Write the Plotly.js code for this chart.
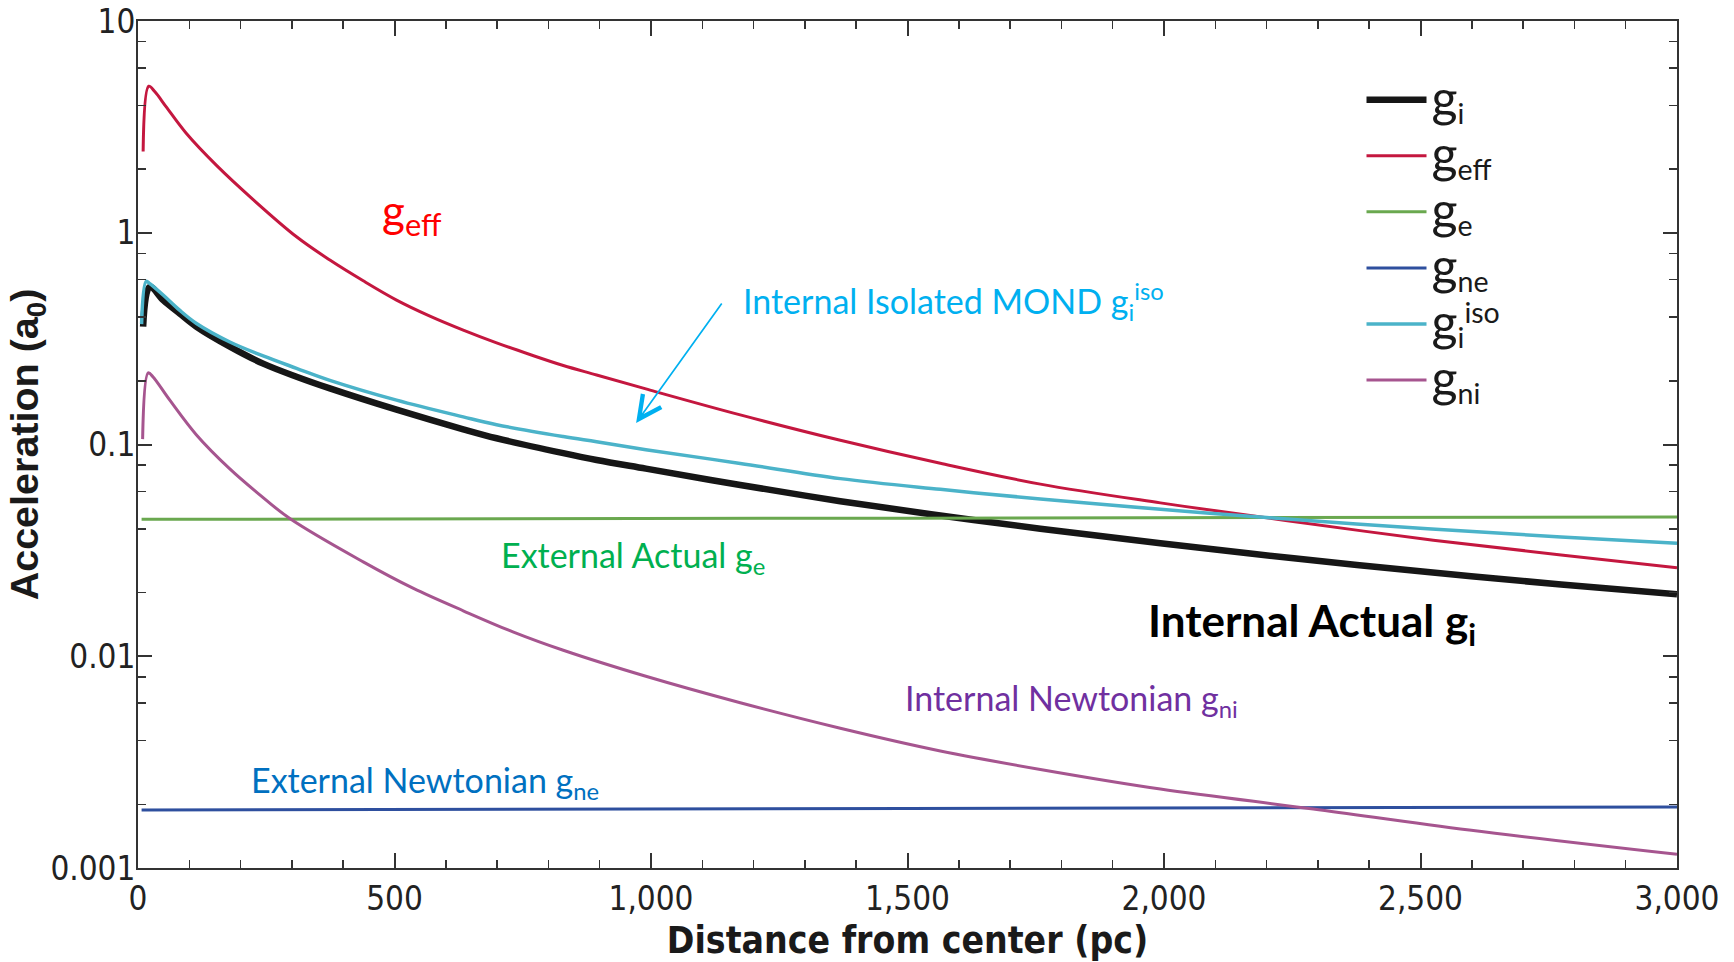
<!DOCTYPE html>
<html>
<head>
<meta charset="utf-8">
<script src="https://cdn.plot.ly/plotly-3.0.1.min.js"></script>
<style>
  html, body { margin: 0; padding: 0; background: #ffffff; }
  #chart { width: 1734px; height: 962px; }
</style>
</head>
<body>
<div id="chart"></div>
<script>
// ---------- data ----------
const gIX   = [10, 23, 49, 81, 114, 179, 244, 309, 374, 504, 634, 699, 829, 894, 990, 1174, 1369, 1564, 1759, 1993, 2253, 2514, 2774, 3000];
const gIY   = [0.36, 0.556, 0.481, 0.416, 0.36, 0.290, 0.241, 0.209, 0.184, 0.146, 0.118, 0.107, 0.091, 0.0845, 0.0769, 0.0644, 0.0540, 0.0462, 0.0400, 0.0342, 0.0290, 0.0250, 0.0218, 0.0196];

const gEffX = [10, 21, 33, 55, 94, 153, 225, 309, 374, 439, 504, 569, 634, 699, 764, 829, 894, 990, 1174, 1369, 1564, 1759, 1993, 2237, 2514, 2774, 3000];
const gEffY = [2.42, 4.92, 4.63, 3.93, 2.95, 2.08, 1.43, 0.957, 0.743, 0.593, 0.481, 0.404, 0.347, 0.302, 0.266, 0.236, 0.213, 0.183, 0.138, 0.1047, 0.0815, 0.0650, 0.0530, 0.0438, 0.0356, 0.0301, 0.0262];

const gEX   = [7, 1500, 3000];
const gEY   = [0.0443, 0.0449, 0.0455];

const gNeX  = [7, 1500, 3000];
const gNeY  = [0.00188, 0.00191, 0.00194];

const gIsoX = [7, 16, 23, 49, 81, 114, 179, 244, 309, 374, 504, 634, 699, 829, 894, 990, 1174, 1369, 1564, 1759, 1993, 2200, 2514, 2774, 3000];
const gIsoY = [0.37, 0.59, 0.575, 0.508, 0.431, 0.373, 0.305, 0.262, 0.229, 0.201, 0.162, 0.135, 0.124, 0.109, 0.103, 0.0945, 0.0814, 0.0690, 0.0614, 0.0553, 0.0494, 0.0452, 0.0400, 0.0366, 0.0342];

const gNiX  = [9, 20, 29, 62, 114, 179, 231, 296, 439, 537, 634, 732, 829, 990, 1174, 1369, 1564, 1759, 1993, 2291, 2595, 3000];
const gNiY  = [0.106, 0.218, 0.209, 0.162, 0.111, 0.0767, 0.0596, 0.0447, 0.0279, 0.0209, 0.0164, 0.0130, 0.01067, 0.00804, 0.00603, 0.00457, 0.00357, 0.00292, 0.00236, 0.0019, 0.00151, 0.00116];

const xTickVals = [0, 500, 1000, 1500, 2000, 2500, 3000];
const xTickText = ['0', '500', '1,000', '1,500', '2,000', '2,500', '3,000'];
const yTickVals = [0.001, 0.01, 0.1, 1, 10];
const yTickText = ['0.001', '0.01', '0.1', '1', '10'];
const yMinorDigits = [2, 4, 6, 8];
const yDecades = [0.001, 0.01, 0.1, 1];

const legendNames = [
  '<span style="font-size:50px">g</span><sub>i</sub>',
  '<span style="font-size:50px">g</span><sub>eff</sub>',
  '<span style="font-size:50px">g</span><sub>e</sub>',
  '<span style="font-size:50px">g</span><sub>ne</sub>',
  '<span style="font-size:50px">g</span><sub>i</sub><sup>iso</sup>',
  '<span style="font-size:50px">g</span><sub>ni</sub>'
];

// ---------- build ----------
const yMinorVals = [];
yDecades.forEach(d => yMinorDigits.forEach(k => yMinorVals.push(+(d * k).toPrecision(3))));

function line(x, y, name, color, width) {
  return { x: x, y: y, name: name, type: 'scatter', mode: 'lines',
           line: { color: color, width: width, shape: 'spline', smoothing: 1 },
           hoverinfo: 'skip' };
}

const traces = [
  line(gIX, gIY, legendNames[0], '#161616', 6.5),
  line(gEffX, gEffY, legendNames[1], '#c4173f', 3),
  line(gEX, gEY, legendNames[2], '#6aa84f', 3),
  line(gNeX, gNeY, legendNames[3], '#2e4f9e', 3),
  line(gIsoX, gIsoY, legendNames[4], '#4bb3c9', 3.5),
  line(gNiX, gNiY, legendNames[5], '#a6558f', 3)
];

const annFont = 'Lato, "Open Sans", sans-serif';
function lab(x, ylog, text, color, size, bold) {
  return { x: x, y: ylog, xref: 'x', yref: 'y', text: text, showarrow: false,
           xanchor: 'left', yanchor: 'middle',
           font: { family: annFont, size: size, color: color, weight: bold ? 'bold' : 'normal' } };
}

const annotations = [
  lab(472, 0.093, 'g<sub>eff</sub>', '#ff0000', 44, false),
  lab(1175, -0.326, 'Internal Isolated MOND g<sub>i</sub><sup>iso</sup>', '#00b0f0', 34, false),
  lab(703, -1.529, 'External Actual g<sub>e</sub>', '#00b050', 34, false),
  lab(217, -2.593, 'External Newtonian g<sub>ne</sub>', '#0070c0', 34, false),
  lab(1492, -2.205, 'Internal Newtonian g<sub>ni</sub>', '#7030a0', 34, false),
  lab(1964, -1.846, 'Internal Actual g<sub>i</sub>', '#000000', 44, true),
  { x: 971, y: -0.898, ax: 1140, ay: -0.327, xref: 'x', yref: 'y', axref: 'x', ayref: 'y',
    text: '', showarrow: true, arrowhead: 5, arrowsize: 2.6, arrowwidth: 1.7, arrowcolor: '#00b0f0', standoff: 0 }
];

const tickFont = { family: '"Liberation Sans Narrow", "DejaVu Sans Condensed", "Arial Narrow", sans-serif', size: 33, color: '#222222' };

const layout = {
  width: 1734, height: 962,
  margin: { l: 138, r: 57, t: 21, b: 94, pad: 0 },
  paper_bgcolor: '#ffffff', plot_bgcolor: '#ffffff',
  showlegend: true,
  legend: {
    x: 0.795, y: 0.946, xanchor: 'left', yanchor: 'top',
    bgcolor: 'rgba(0,0,0,0)', borderwidth: 0,
    font: { family: annFont, size: 40.8, color: '#1a1a1a' },
    itemwidth: 60, tracegroupgap: 0
  },
  xaxis: {
    range: [0, 3000], showgrid: false, zeroline: false,
    showline: true, linecolor: '#333333', linewidth: 2, mirror: 'allticks',
    ticks: 'inside', ticklen: 15, tickwidth: 2, tickcolor: '#333333',
    tickmode: 'array', tickvals: xTickVals, ticktext: xTickText,
    tickfont: tickFont, ticklabelstandoff: 0,
    minor: { dtick: 100, ticks: 'inside', ticklen: 8, tickwidth: 1.5, tickcolor: '#333333', showgrid: false },
    title: { text: 'Distance from center (pc)', standoff: 13,
             font: { family: '"Liberation Sans Narrow", "DejaVu Sans Condensed", sans-serif', size: 37, color: '#1a1a1a', weight: 'bold' } }
  },
  yaxis: {
    type: 'log', range: [-3, 1], showgrid: false, zeroline: false,
    showline: true, linecolor: '#333333', linewidth: 2, mirror: 'allticks',
    ticks: 'inside', ticklen: 14, tickwidth: 2, tickcolor: '#333333',
    tickmode: 'array', tickvals: yTickVals, ticktext: yTickText,
    tickfont: tickFont, ticklabelstandoff: -6,
    minor: { tickmode: 'array', tickvals: yMinorVals, ticks: 'inside', ticklen: 8, tickwidth: 1.5, tickcolor: '#333333', showgrid: false },
    title: { text: 'Acceleration (a<sub>0</sub>)', standoff: 0,
             font: { family: '"Liberation Sans", Arial, sans-serif', size: 39.5, color: '#1a1a1a', weight: 'bold' } }
  },
  annotations: annotations
};

Plotly.newPlot('chart', traces, layout, { displayModeBar: false, staticPlot: true });
</script>
</body>
</html>
